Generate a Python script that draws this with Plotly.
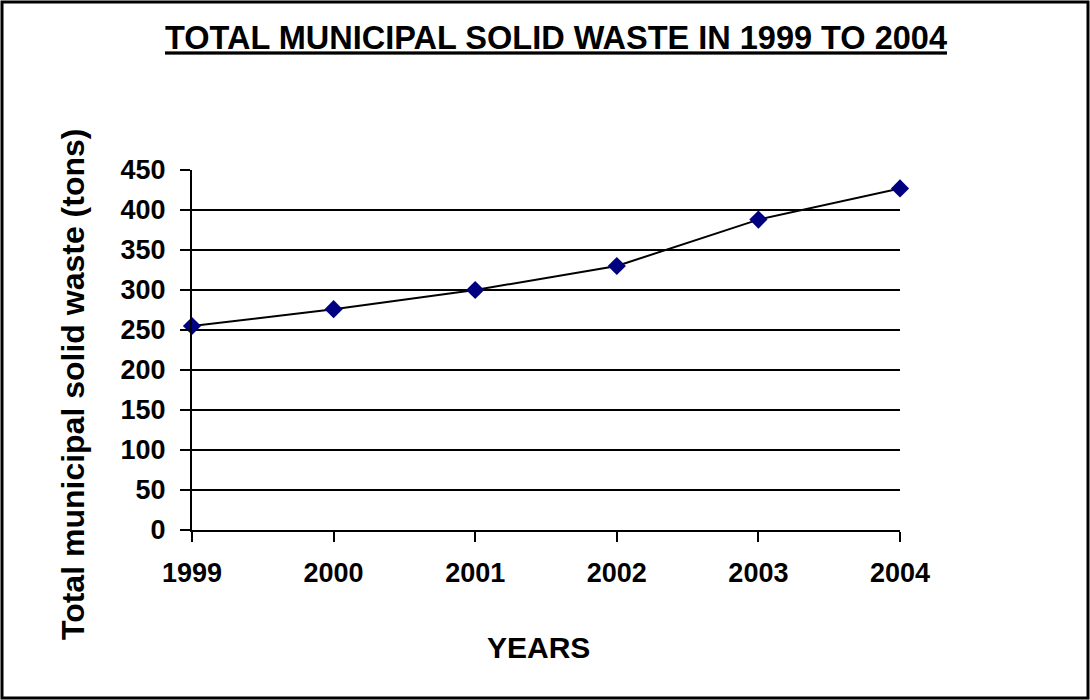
import plotly.graph_objects as go

years = [1999, 2000, 2001, 2002, 2003, 2004]
waste_tons = [255, 276, 300, 330, 388, 427]
y_ticks = [0, 50, 100, 150, 200, 250, 300, 350, 400, 450]

W, H = 1090, 700
L, R, T, B = 192, 190, 170, 170
pw, ph = W - L - R, H - T - B

fig = go.Figure()
fig.add_trace(go.Scatter(
    x=years, y=waste_tons, mode="lines+markers",
    line=dict(color="black", width=2),
    marker=dict(symbol="diamond", size=14, color="#000080", line=dict(width=0)),
    cliponaxis=False, showlegend=False,
))

font = "Liberation Sans, Arial, sans-serif"
fig.update_layout(
    width=W, height=H,
    margin=dict(l=L, r=R, t=T, b=B),
    paper_bgcolor="white", plot_bgcolor="white",
    font=dict(family=font, color="black"),
    title=dict(text="<b><u>TOTAL MUNICIPAL SOLID WASTE IN 1999 TO 2004</u></b>",
               x=(556 - L) / pw, xref="paper", xanchor="center",
               y=1 - 38 / H, yanchor="middle",
               font=dict(size=32.5, family=font, color="black")),
    xaxis=dict(
        range=[1999, 2004], tickvals=years, ticktext=[str(y) for y in years],
        tickfont=dict(size=27, family=font, weight="bold"), ticks="outside", ticklen=10,
        tickwidth=2, tickcolor="black", showline=True, linecolor="black",
        linewidth=2, showgrid=False, zeroline=False, ticklabelstandoff=8,
    ),
    yaxis=dict(
        range=[0, 450], tickvals=y_ticks,
        tickfont=dict(size=27, family=font, weight="bold"), ticks="outside", ticklen=10,
        tickwidth=2, tickcolor="black", showline=True, linecolor="black",
        linewidth=2, showgrid=True, gridcolor="black", gridwidth=2,
        zeroline=False, ticklabelstandoff=9,
    ),
)

# axis titles placed as annotations (off-centre as in the reference)
fig.add_annotation(text="<b>YEARS</b>", xref="paper", yref="paper",
                   x=(538 - L) / pw, y=(H - B - 647) / ph,
                   xanchor="center", yanchor="middle", showarrow=False,
                   font=dict(size=30, family=font, color="black"))
fig.add_annotation(text="<b>Total municipal solid waste (tons)</b>",
                   xref="paper", yref="paper", textangle=-90,
                   x=(73 - L) / pw, y=(H - B - 385) / ph,
                   xanchor="center", yanchor="middle", showarrow=False,
                   font=dict(size=32, family=font, color="black"))

# outer frame around the whole chart
x0 = (2 - L) / pw
x1 = (1088 - L) / pw
y0 = (H - B - 698) / ph
y1 = (H - B - 2) / ph
fig.add_shape(type="rect", xref="paper", yref="paper",
              x0=x0, x1=x1, y0=y0, y1=y1,
              line=dict(color="black", width=3), layer="below")

fig.write_html("out.html", config={"displayModeBar": False},
               post_script="document.body.style.margin='0';")
